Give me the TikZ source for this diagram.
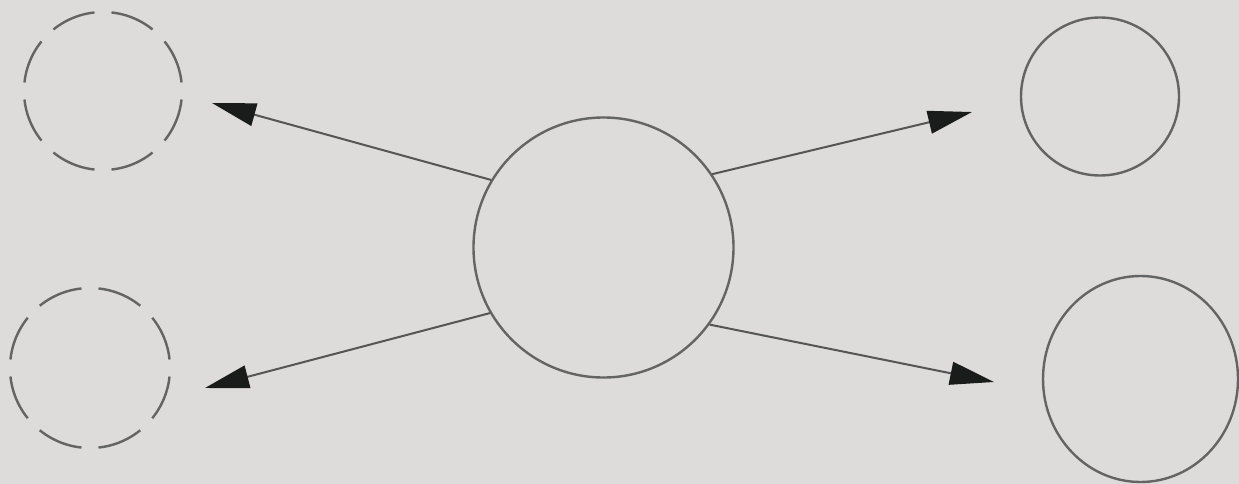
\documentclass[tikz,border=0pt]{standalone}
\usetikzlibrary{arrows.meta,shapes.geometric}
\definecolor{bg}{RGB}{221,220,219}
\definecolor{ring}{RGB}{100,100,100}
\definecolor{conn}{RGB}{85,85,85}
\definecolor{tipc}{RGB}{25,28,26}
\tikzset{
  ringnode/.style={circle,draw=ring,line width=2.4pt,inner sep=0pt,minimum size=#1},
  dashring/.style={circle,draw=ring,line width=2.4pt,inner sep=0pt,minimum size=#1},
  flowarrow/.style={draw=conn,line width=2pt,-{Triangle[length=44pt,width=23pt,fill=tipc,color=tipc]}}
}
\begin{document}
\begin{tikzpicture}[x=1pt,y=-1pt]
\fill[bg] (0,0) rectangle (1239,484);
\useasboundingbox (0,0) rectangle (1239,484);
% dashed targets
\node[dashring=158pt,dash pattern=on 45.05pt off 17pt,dash phase=53.55pt] (tl) at (103,91) {};
\node[dashring=160pt,dash pattern=on 45.83pt off 17pt,dash phase=54.33pt] (bl) at (90,368) {};
% center
\node[ringnode=260pt] (c) at (603.5,247.5) {};
% right targets
\node[ringnode=158pt] (tr) at (1100,96.5) {};
\node[ellipse,draw=ring,line width=2.4pt,inner sep=0pt,minimum width=195pt,minimum height=206pt] (br) at (1140.5,379) {};
% arrow tips
\coordinate (ttl) at (212,103);
\coordinate (tbl) at (205,388);
\coordinate (ttr) at (972,112);
\coordinate (tbr) at (994,382);
\draw[flowarrow] (c.149) -- (ttl);
\draw[flowarrow] (c.210) -- (tbl);
\draw[flowarrow] (c.34.8) -- (ttr);
\draw[flowarrow] (c.-36) -- (tbr);
\end{tikzpicture}
\end{document}
